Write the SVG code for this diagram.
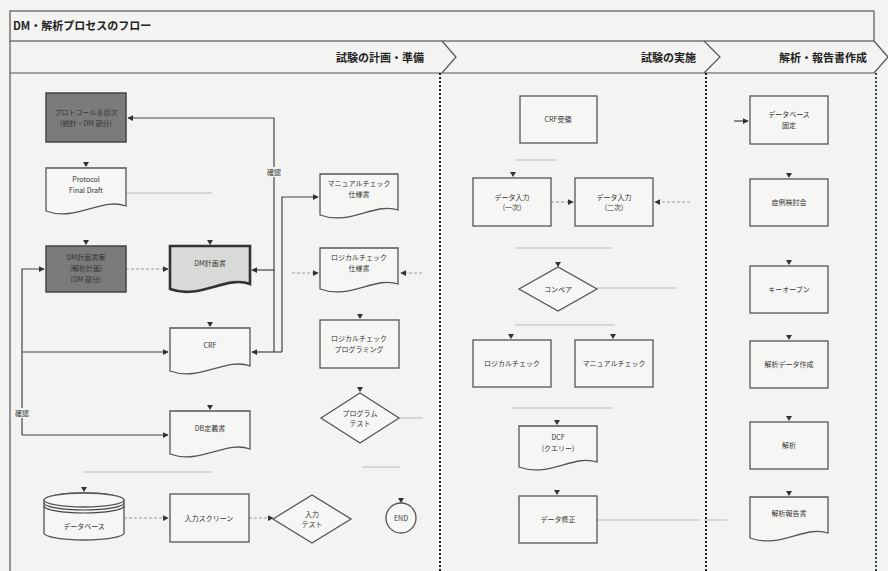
<svg xmlns="http://www.w3.org/2000/svg" xmlns:xlink="http://www.w3.org/1999/xlink" width="888" height="571" viewBox="0 0 888 571">
<style>
text{font-family:"Noto Sans CJK JP","Noto Sans",sans-serif;fill:#333;}
.t{font-size:7px;text-anchor:middle;}
.hd{font-size:11px;font-weight:bold;text-anchor:end;fill:#222;}
.ttl{font-size:11px;font-weight:bold;fill:#222;}
.box{fill:#f6f6f4;stroke:#555;stroke-width:1.3;}
.dark{fill:#7b7b79;stroke:#444;stroke-width:1.5;}
.dark2{fill:#d9d9d7;stroke:#333;stroke-width:2.6;}
.frame{fill:none;stroke:#555;stroke-width:1.2;}
.sep{fill:none;stroke:#222;stroke-width:2;stroke-dasharray:2 2;}
.sepg{fill:none;stroke:#2f4a3e;stroke-width:2;stroke-dasharray:2 2;}
.c{fill:none;stroke:#444;stroke-width:1.2;}
.cd{fill:none;stroke:#999;stroke-width:1;stroke-dasharray:3 2;}
.f{fill:none;stroke:#bbb;stroke-width:1;}
.tri{fill:#333;}
.lbl{font-size:7px;text-anchor:middle;}
</style>
<defs>
<marker id="ah" viewBox="0 0 8 8" refX="7" refY="4" markerWidth="6" markerHeight="6" orient="auto" markerUnits="userSpaceOnUse">
<path d="M0,0 L8,4 L0,8 Z" fill="#333"/>
</marker>
<path id="doc" d="M0,0 H80 V38 C56,29 30,54 0,43 Z"/>
<path id="doc2" d="M0,0 H78 V36 C55,28 30,52 0,41 Z"/>
<path id="tr" d="M-3,-4 H3 L0,1 Z"/>
</defs>
<rect x="0" y="0" width="888" height="571" fill="#f3f3f1"/>

<g id="frame">
<rect class="frame" x="10" y="11" width="864" height="30"/>
<text class="ttl" x="13" y="30">DM・解析プロセスのフロー</text>
<path class="frame" d="M10,41 V571"/>
<path class="frame" d="M10,73 H874"/>
<path class="frame" d="M442,41 L456,57 L442,73"/>
<path class="frame" d="M704,41 L720,57 L704,73"/>
<path class="frame" d="M874,41 L888,57 L874,73"/>
<text class="hd" x="424" y="62">試験の計画・準備</text>
<text class="hd" x="696" y="62">試験の実施</text>
<text class="hd" x="867" y="62">解析・報告書作成</text>
<path class="sep" d="M440,73 V571"/>
<path class="sep" d="M706,73 V571"/>
<path class="sepg" d="M876,73 V571"/>
</g>

<g id="connectors">
<path class="c" d="M274,352 V118 H128" marker-end="url(#ah)"/>
<path class="c" d="M274,270 H252" marker-end="url(#ah)"/>
<path class="c" d="M282,352 V197 H318" marker-end="url(#ah)"/>
<path class="c" d="M282,352 H252" marker-end="url(#ah)"/>
<path class="c" d="M22,435 V269 H44" marker-end="url(#ah)"/>
<path class="c" d="M22,352 H168" marker-end="url(#ah)"/>
<path class="c" d="M22,435 H168" marker-end="url(#ah)"/>
<path class="cd" d="M126,269 H168" marker-end="url(#ah)"/>
<path class="cd" d="M124,518 H168" marker-end="url(#ah)"/>
<path class="cd" d="M249,518 H273" marker-end="url(#ah)"/>
<path class="cd" d="M551,202 H573" marker-end="url(#ah)"/>
<path class="cd" d="M690,202 H655" marker-end="url(#ah)"/>
<path class="cd" d="M292,273 H318" marker-end="url(#ah)"/>
<path class="cd" d="M422,273 H401" marker-end="url(#ah)"/>
<path class="c" d="M734,121 H748" marker-end="url(#ah)"/>
<path class="f" d="M126,193 H212"/>
<path class="f" d="M83,472 H212"/>
<path class="f" d="M399,418 H423"/>
<path class="f" d="M362,467 H400"/>
<path class="f" d="M515,160 H557"/>
<path class="f" d="M515,248 H612"/>
<path class="f" d="M597,288 H677"/>
<path class="f" d="M515,325 H615"/>
<path class="f" d="M512,408 H613"/>
<path class="f" d="M597,520 H700"/>
<path class="f" d="M705,520 H727"/>
<use href="#tr" class="tri" x="86" y="166"/>
<use href="#tr" class="tri" x="86" y="244"/>
<use href="#tr" class="tri" x="210" y="244"/>
<use href="#tr" class="tri" x="210" y="326"/>
<use href="#tr" class="tri" x="210" y="409"/>
<use href="#tr" class="tri" x="84" y="491"/>
<use href="#tr" class="tri" x="401" y="502"/>
<use href="#tr" class="tri" x="360" y="318"/>
<use href="#tr" class="tri" x="360" y="391"/>
<use href="#tr" class="tri" x="513" y="176"/>
<use href="#tr" class="tri" x="558" y="266"/>
<use href="#tr" class="tri" x="511" y="338"/>
<use href="#tr" class="tri" x="613" y="338"/>
<use href="#tr" class="tri" x="557" y="424"/>
<use href="#tr" class="tri" x="557" y="494"/>
<use href="#tr" class="tri" x="789" y="177"/>
<use href="#tr" class="tri" x="789" y="264"/>
<use href="#tr" class="tri" x="789" y="339"/>
<use href="#tr" class="tri" x="789" y="420"/>
<use href="#tr" class="tri" x="789" y="495"/>
<rect x="266" y="167" width="16" height="10" fill="#f3f3f1"/>
<text class="lbl" x="274" y="175">確認</text>
<rect x="14" y="408" width="16" height="10" fill="#f3f3f1"/>
<text class="lbl" x="22" y="416">確認</text>
</g>

<g id="n_protocol_toc">
<rect class="dark" x="46" y="93" width="80" height="49"/>
<text class="t" x="86" y="115">プロトコール＆目次</text>
<text class="t" x="86" y="126">(統計・DM 部分)</text>
</g>
<g id="n_protocol_final">
<use href="#doc" class="box" x="46" y="168"/>
<text class="t" x="86" y="182">Protocol</text>
<text class="t" x="86" y="193">Final Draft</text>
</g>
<g id="n_dm_plan_draft">
<rect class="dark" x="46" y="246" width="80" height="46"/>
<text class="t" x="86" y="260">DM計画書案</text>
<text class="t" x="86" y="271">(解析計画)</text>
<text class="t" x="86" y="282">(DM 部分)</text>
</g>
<g id="n_dm_plan">
<use href="#doc" class="dark2" x="170" y="246"/>
<text class="t" x="210" y="266">DM計画書</text>
</g>
<g id="n_crf">
<use href="#doc" class="box" x="170" y="328"/>
<text class="t" x="210" y="348">CRF</text>
</g>
<g id="n_db_def">
<use href="#doc" class="box" x="170" y="411"/>
<text class="t" x="210" y="431">DB定義書</text>
</g>
<g id="n_database">
<path class="box" d="M44,500 V533 A40,7 0 0 0 124,533 V500 A40,7 0 0 0 44,500 Z"/>
<ellipse class="box" cx="84" cy="500" rx="40" ry="7"/>
<path class="c" d="M44,503 A40,7 0 0 0 124,503 M44,506 A40,7 0 0 0 124,506"/>
<text class="t" x="84" y="529">データベース</text>
</g>
<g id="n_input_screen">
<rect class="box" x="170" y="494" width="79" height="48"/>
<text class="t" x="209" y="521">入力スクリーン</text>
</g>
<g id="n_input_test">
<path class="box" d="M273,519 L312,495 L351,519 L312,543 Z"/>
<text class="t" x="312" y="517">入力</text>
<text class="t" x="312" y="527">テスト</text>
</g>
<g id="n_end">
<circle class="box" cx="401" cy="518" r="15"/>
<text class="t" x="401" y="521">END</text>
</g>
<g id="n_manual_spec">
<use href="#doc2" class="box" x="320" y="174"/>
<text class="t" x="359" y="186">マニュアルチェック</text>
<text class="t" x="359" y="197">仕様書</text>
</g>
<g id="n_logical_spec">
<use href="#doc2" class="box" x="320" y="248"/>
<text class="t" x="359" y="260">ロジカルチェック</text>
<text class="t" x="359" y="271">仕様書</text>
</g>
<g id="n_logical_prog">
<rect class="box" x="320" y="320" width="79" height="48"/>
<text class="t" x="359" y="341">ロジカルチェック</text>
<text class="t" x="359" y="352">プログラミング</text>
</g>
<g id="n_prog_test">
<path class="box" d="M321,418 L360,393 L399,418 L360,443 Z"/>
<text class="t" x="360" y="416">プログラム</text>
<text class="t" x="360" y="426">テスト</text>
</g>
<g id="n_crf_recv">
<rect class="box" x="520" y="96" width="77" height="47"/>
<text class="t" x="558" y="122">CRF受領</text>
</g>
<g id="n_entry1">
<rect class="box" x="473" y="178" width="78" height="48"/>
<text class="t" x="512" y="200">データ入力</text>
<text class="t" x="512" y="210">(一次)</text>
</g>
<g id="n_entry2">
<rect class="box" x="575" y="178" width="78" height="48"/>
<text class="t" x="614" y="200">データ入力</text>
<text class="t" x="614" y="210">(二次)</text>
</g>
<g id="n_compare">
<path class="box" d="M519,289 L558,267 L597,289 L558,311 Z"/>
<text class="t" x="558" y="292">コンペア</text>
</g>
<g id="n_logical_check">
<rect class="box" x="473" y="340" width="78" height="47"/>
<text class="t" x="512" y="366">ロジカルチェック</text>
</g>
<g id="n_manual_check">
<rect class="box" x="575" y="340" width="78" height="47"/>
<text class="t" x="614" y="366">マニュアルチェック</text>
</g>
<g id="n_dcf">
<use href="#doc2" class="box" x="519" y="426"/>
<text class="t" x="558" y="440">DCF</text>
<text class="t" x="558" y="451">(クエリー)</text>
</g>
<g id="n_data_fix">
<rect class="box" x="519" y="496" width="78" height="47"/>
<text class="t" x="558" y="522">データ修正</text>
</g>
<g id="n_db_lock">
<rect class="box" x="750" y="96" width="78" height="48"/>
<text class="t" x="789" y="117">データベース</text>
<text class="t" x="789" y="128">固定</text>
</g>
<g id="n_case_review">
<rect class="box" x="750" y="179" width="78" height="47"/>
<text class="t" x="789" y="205">症例検討会</text>
</g>
<g id="n_key_open">
<rect class="box" x="750" y="266" width="78" height="47"/>
<text class="t" x="789" y="292">キーオープン</text>
</g>
<g id="n_analysis_data">
<rect class="box" x="750" y="341" width="78" height="47"/>
<text class="t" x="789" y="367">解析データ作成</text>
</g>
<g id="n_analysis">
<rect class="box" x="750" y="422" width="78" height="47"/>
<text class="t" x="789" y="448">解析</text>
</g>
<g id="n_report">
<use href="#doc2" class="box" x="750" y="497"/>
<text class="t" x="789" y="516">解析報告書</text>
</g>
</svg>
